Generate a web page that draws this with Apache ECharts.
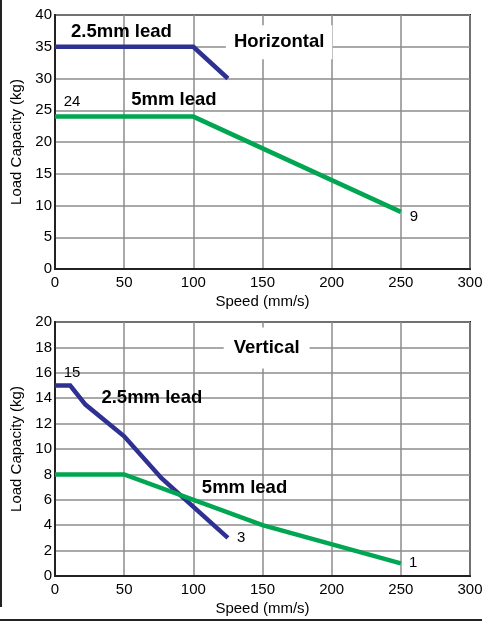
<!DOCTYPE html>
<html>
<head>
<meta charset="utf-8">
<script src="https://cdn.jsdelivr.net/npm/echarts@6/dist/echarts.min.js"></script>
<style>
html,body{margin:0;padding:0;background:#fff;}
#c{width:491px;height:624px;}
</style>
</head>
<body>
<div id="c"></div>
<script>
// ---- data ----
const xTicks = [0, 50, 100, 150, 200, 250, 300];
const hYTicks = [0, 5, 10, 15, 20, 25, 30, 35, 40];
const vYTicks = [0, 2, 4, 6, 8, 10, 12, 14, 16, 18, 20];

const hLead25 = [[0, 35], [100, 35], [125, 30]];
const hLead5 = [[0, 24], [100, 24], [250, 9]];
const vLead25 = [[0, 15], [11, 15], [22, 13.5], [50, 11], [77, 7.7], [125, 3]];
const vLead5 = [[0, 8], [50, 8], [150, 4], [250, 1]];

// annotations [x, y, text]
const hNotes = [[48, 37.3, '2.5mm lead'], [86, 26.7, '5mm lead']];
const hSmall = [[12.3, 26.4, '24'], [259.5, 8.2, '9']];
const hTitle = [[162, 35.7, 'Horizontal']];
const vNotes = [[70, 14.0, '2.5mm lead'], [137, 6.9, '5mm lead']];
const vSmall = [[12.3, 16.0, '15'], [134.5, 3.0, '3'], [259, 1.0, '1']];
const vTitle = [[153, 17.95, 'Vertical']];

const BLUE = '#2e3192';
const GREEN = '#00a651';
const FONT = 'Liberation Sans, Arial, sans-serif';

const chart = echarts.init(document.getElementById('c'), null, {renderer: 'canvas'});

function xAxisCfg(gi) {
  return {
    type: 'value', gridIndex: gi, min: 0, max: 300, interval: 50,
    name: 'Speed (mm/s)', nameLocation: 'middle', nameGap: 25,
    nameTextStyle: {fontFamily: FONT, fontSize: 15, color: '#000'},
    axisLine: {show: true, lineStyle: {color: '#222', width: 2}},
    axisTick: {show: false},
    axisLabel: {fontFamily: FONT, fontSize: 15, color: '#000', margin: 6},
    splitLine: {show: true, lineStyle: {color: '#8c8c8c', width: 1.5}}
  };
}
function yAxisCfg(gi, max, interval) {
  return {
    type: 'value', gridIndex: gi, min: 0, max: max, interval: interval,
    name: 'Load Capacity (kg)', nameLocation: 'middle', nameGap: 24,
    nameTextStyle: {fontFamily: FONT, fontSize: 15, color: '#000'},
    axisLine: {show: true, lineStyle: {color: '#222', width: 2}},
    axisTick: {show: false},
    axisLabel: {fontFamily: FONT, fontSize: 15, color: '#000', margin: 3},
    splitLine: {show: true, lineStyle: {color: '#8c8c8c', width: 1.5}}
  };
}
function lineSeries(gi, data, color) {
  return {
    type: 'line', xAxisIndex: gi, yAxisIndex: gi, data: data,
    showSymbol: false, symbol: 'none', silent: true, z: 3,
    lineStyle: {color: color, width: 4.5, cap: 'butt', join: 'miter'}
  };
}
function noteSeries(gi, data, size, weight, bg, pad) {
  return {
    type: 'scatter', xAxisIndex: gi, yAxisIndex: gi, data: data,
    symbolSize: 0, silent: true, z: 5,
    itemStyle: {opacity: 1},
    label: {
      show: true, position: 'inside', opacity: 1,
      formatter: p => p.value[2],
      fontFamily: FONT, fontSize: size, fontWeight: weight, color: '#000',
      backgroundColor: bg || 'transparent', padding: pad || 0
    }
  };
}

chart.setOption({
  animation: false,
  backgroundColor: '#fff',
  grid: [
    {left: 55, right: 21, top: 15, height: 254, show: true, borderColor: '#222', borderWidth: 2, backgroundColor: 'transparent'},
    {left: 55, right: 21, top: 322, height: 254, show: true, borderColor: '#222', borderWidth: 2, backgroundColor: 'transparent'}
  ],
  xAxis: [xAxisCfg(0), xAxisCfg(1)],
  yAxis: [yAxisCfg(0, 40, 5), yAxisCfg(1, 20, 2)],
  graphic: [
    {type: 'rect', shape: {x: 0, y: 0, width: 2, height: 607}, style: {fill: '#222'}, silent: true},
    {type: 'rect', shape: {x: 0, y: 619, width: 482, height: 2}, style: {fill: '#222'}, silent: true}
  ],
  series: [
    lineSeries(0, hLead25, BLUE),
    lineSeries(0, hLead5, GREEN),
    lineSeries(1, vLead25, BLUE),
    lineSeries(1, vLead5, GREEN),
    noteSeries(0, hNotes, 18.5, 'bold'),
    noteSeries(0, hSmall, 15, 'normal'),
    noteSeries(0, hTitle, 18.5, 'bold', '#fff', [9, 8, 6, 8]),
    noteSeries(1, vNotes, 18.5, 'bold'),
    noteSeries(1, vSmall, 15, 'normal'),
    noteSeries(1, vTitle, 18.5, 'bold', '#fff', [14, 10, 8, 10])
  ]
});
</script>
</body>
</html>
